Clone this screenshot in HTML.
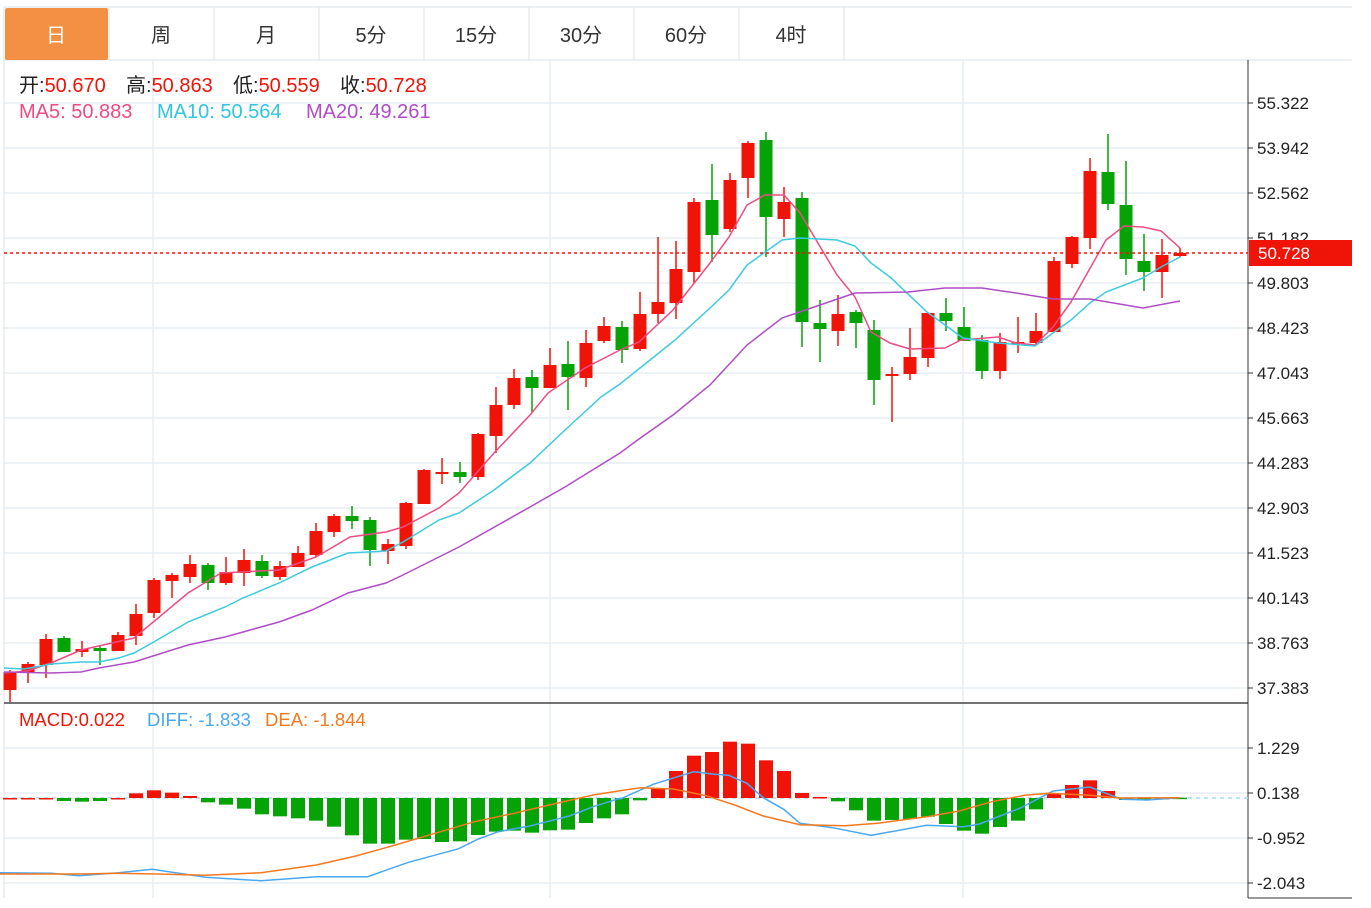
<!DOCTYPE html>
<html><head><meta charset="utf-8">
<style>
body{margin:0;background:#fff;width:1371px;height:903px;overflow:hidden;font-family:"Liberation Sans","Noto Sans CJK SC",sans-serif;}
</style></head><body>
<svg id="s" width="1371" height="903" xmlns="http://www.w3.org/2000/svg" font-family="Liberation Sans, Noto Sans CJK SC, sans-serif"></svg>
<script>
var s=document.getElementById('s');var h='';
function L(x1,y1,x2,y2,c,w,d){h+='<line x1="'+x1+'" y1="'+y1+'" x2="'+x2+'" y2="'+y2+'" stroke="'+c+'" stroke-width="'+(w||1)+'"'+(d?' stroke-dasharray="'+d+'"':'')+'/>';}
function R(x,y,w,hh,c){h+='<rect x="'+x+'" y="'+y+'" width="'+w+'" height="'+hh+'" fill="'+c+'"/>';}
function T(x,y,t,c,sz,a){h+='<text x="'+x+'" y="'+y+'" fill="'+c+'" font-size="'+sz+'"'+(a?' text-anchor="'+a+'"':'')+'>'+t+'</text>';}
function P(pts,c,w){h+='<polyline fill="none" stroke="'+c+'" stroke-width="'+(w||1.5)+'" points="'+pts.map(function(p){return p.join(',')}).join(' ')+'"/>';}
var G='#e6eef4';
L(4,7,1352,7,'#dde3e8');L(4,60,1352,60,'#dde3e8');
var tabs=['日','周','月','5分','15分','30分','60分','4时'];
for(var i=0;i<8;i++){var x=4+i*105;
 if(i==0){h+='<rect x="5" y="8" width="103" height="52" rx="2" fill="#f39043"/>';}
 L(x+105,7,x+105,60,'#dde3e8');
 T(x+52,42,tabs[i],i==0?'#fff':'#333',20,'middle');}
L(4,7,4,60,'#dde3e8');
var py=[103,148,193,238,283,328,373,418,463,508,553,598,643,688];
var pl=['55.322','53.942','52.562','51.182','49.803','48.423','47.043','45.663','44.283','42.903','41.523','40.143','38.763','37.383'];
py.forEach(function(y){L(4,y,1248,y,G,1.5);});
[748,793,838,883].forEach(function(y){L(4,y,1248,y,G,1.5);});
[153,550,963].forEach(function(x){L(x,60,x,898,G,1.5);});
L(4,60,4,898,'#dde3e8');
L(1248,60,1248,898,'#333');L(4,703,1248,703,'#222',1.2);L(1248,898,1352,898,'#333');
py.forEach(function(y,i){L(1248,y,1253,y,'#333');T(1257,y+6,pl[i],'#222',17);});
var my=[748,793,838,883],ml=['1.229','0.138','-0.952','-2.043'];
my.forEach(function(y,i){L(1248,y,1253,y,'#333');T(1257,y+6,ml[i],'#222',17);});
var C=[[1,672,690,670,702],[1,664,672,662,683],[1,639,665,634,678],[0,638,652,636,652],[1,649,652,641,657],[0,648,651,646,665],[1,635,651,632,651],[1,614,636,604,645],[1,580,613,578,618],[1,575,581,573,598],[1,564,577,555,583],[0,565,583,563,590],[1,572,583,557,585],[1,560,573,549,586],[0,561,576,555,578],[1,566,577,561,580],[1,553,567,546,567],[1,531,555,523,557],[1,516,532,514,537],[0,516,521,506,529],[0,520,550,517,566],[1,544,551,539,564],[1,503,546,502,549],[1,470,504,469,504],[1,472,474,458,484],[0,472,477,462,483],[1,434,477,433,480],[1,405,436,387,453],[1,378,405,369,409],[0,377,388,370,413],[1,365,388,348,388],[0,364,377,341,410],[1,343,378,330,387],[1,326,341,317,343],[0,327,350,321,363],[1,314,349,292,351],[1,302,314,237,323],[1,269,303,241,319],[1,202,272,198,283],[0,200,235,164,262],[1,180,229,173,232],[1,143,178,141,198],[0,140,217,132,257],[1,202,219,187,237],[0,198,322,192,347],[0,323,329,300,362],[1,314,331,295,346],[0,312,323,310,348],[0,330,380,320,405],[1,374,376,367,422],[1,357,374,328,380],[1,313,358,313,367],[0,313,321,298,331],[0,327,341,307,341],[0,340,371,335,379],[1,342,371,333,379],[1,342,344,317,353],[1,331,343,313,345],[1,261,332,257,332],[1,237,264,236,268],[1,171,238,158,249],[0,172,204,134,210],[0,205,259,161,275],[0,261,272,234,291],[1,255,272,239,298],[1,253,256,248,257]];
var RED='#f01408',GRN='#06a306';
C.forEach(function(c,i){var x=10+18*i,col=c[0]?RED:GRN;L(x,c[3],x,c[4],col,1.5);R(x-6.5,c[1],13,Math.max(2,c[2]-c[1]),col);});
P([[4,673],[27,671],[51,663],[81,650],[134,638],[188,593],[221,573],[279,570],[316,557],[350,537],[386,532],[403,527],[439,508],[459,493],[494,453],[530,415],[548,393],[585,368],[620,350],[639,342],[673,310],[710,263],[729,237],[747,205],[765,195],[784,195],[800,213],[837,275],[855,297],[871,332],[890,343],[910,349],[945,348],[961,340],[998,337],[1016,343],[1035,345],[1053,327],[1071,302],[1106,240],[1124,226],[1143,227],[1161,231],[1180,248]],'#ee4b82');
P([[4,668],[24,669],[51,664],[81,662],[99,662],[119,658],[134,653],[152,643],[188,622],[225,607],[243,598],[279,583],[312,567],[348,553],[386,551],[403,542],[439,520],[459,513],[494,490],[530,463],[565,430],[601,397],[620,384],[675,340],[710,308],[729,290],[747,265],[782,240],[800,238],[837,240],[855,246],[871,263],[890,277],[927,312],[963,338],[998,343],[1035,346],[1053,333],[1071,320],[1090,303],[1106,292],[1143,278],[1161,267],[1180,257]],'#3ccbe0');
P([[4,672],[51,673],[81,672],[99,668],[134,662],[188,645],[225,637],[279,622],[312,610],[348,593],[386,583],[403,575],[459,547],[530,507],[565,487],[620,453],[639,439],[673,415],[710,385],[747,345],[782,318],[820,305],[855,293],[908,292],[945,288],[982,288],[1016,293],[1053,299],[1090,299],[1143,308],[1180,301]],'#b04cc6');
L(4,253,1248,253,'#f01408',1.5,'3,3');
R(1249,240,103,26,'#f01408');T(1258,259,'50.728','#fff',17);
var Z=798;
var M=[204,204,204,213,215,213,204,190,181,188,198,217,224,236,253,259,265,272,290,316,341,341,329,327,336,334,315,305,302,308,301,299,279,265,253,211,175,123,77,66,35,41,91,123,189,201,214,241,272,270,267,260,282,302,311,291,272,238,190,165,151,183,210,210,204,203];
var Mr=[1,1,1,0,0,0,1,1,1,1,1,0,0,0,0,0,0,0,0,0,0,0,0,0,0,0,0,0,0,0,0,0,0,0,0,0,1,1,1,1,1,1,1,1,1,1,0,0,0,0,0,0,0,0,0,0,0,0,1,1,1,1,0,0,0,0];
L(4,Z,1248,Z,'#a8d8ee',1.5,'4,4');
M.forEach(function(v,i){var y=730+v/3,x=10+18*i,col=Mr[i]?RED:GRN;var t=Math.min(y,Z),b=Math.max(y,Z);if(b-t<1.5){b=t+1.5;}R(x-7,t,14,b-t,col);});
function conv(a,ox,sx){return a.map(function(p){return[(ox+p[0]/sx).toFixed(1),(730+p[1]/3).toFixed(1)];});}
var d1=conv([[0,428],[130,430],[200,437],[300,428],[385,418],[520,442],[660,452],[800,440],[930,440],[1030,398],[1080,382],[1160,356],[1210,327],[1260,305],[1340,288],[1440,258],[1500,230],[1568,205]],0,2.529).concat(conv([[50,207],[130,163],[230,125],[280,133],[315,136],[360,160],[400,203],[450,238],[490,280],[570,293],[665,316],[800,286],[890,290],[930,282],[1030,234],[1110,183],[1200,171],[1240,190],[1280,208],[1340,210],[1420,203]],600,2.45));
var d2=conv([[0,432],[200,432],[300,430],[400,432],[520,436],[660,428],[800,405],[900,378],[1000,345],[1100,310],[1200,275],[1300,250],[1400,222],[1500,195],[1568,182]],0,2.529).concat(conv([[100,173],[180,177],[260,197],[330,225],[400,258],[490,284],[600,287],[680,280],[800,260],[880,243],[960,215],[1040,196],[1100,190],[1200,196],[1270,204],[1420,203]],600,2.45));
P(d1,'#4aa8f0',1.5);P(d2,'#f5781e',1.5);
var hd=[[19,'开:','50.670'],[126,'高:','50.863'],[233,'低:','50.559'],[340,'收:','50.728']];
hd.forEach(function(a){h+='<text x="'+a[0]+'" y="92" font-size="20"><tspan fill="#222">'+a[1]+'</tspan><tspan fill="#f01408">'+a[2]+'</tspan></text>';});
T(19,118,'MA5:&#160;50.883','#ee4b82',20);T(157,118,'MA10:&#160;50.564','#2ec6de',20);T(306,118,'MA20:&#160;49.261','#b04cc6',20);
T(19,726,'MACD:0.022','#f01408',18.5);T(147,726,'DIFF:&#160;-1.833','#4aa8f0',18.5);T(265,726,'DEA:&#160;-1.844','#f5781e',18.5);
s.innerHTML=h;
</script>
</body></html>
